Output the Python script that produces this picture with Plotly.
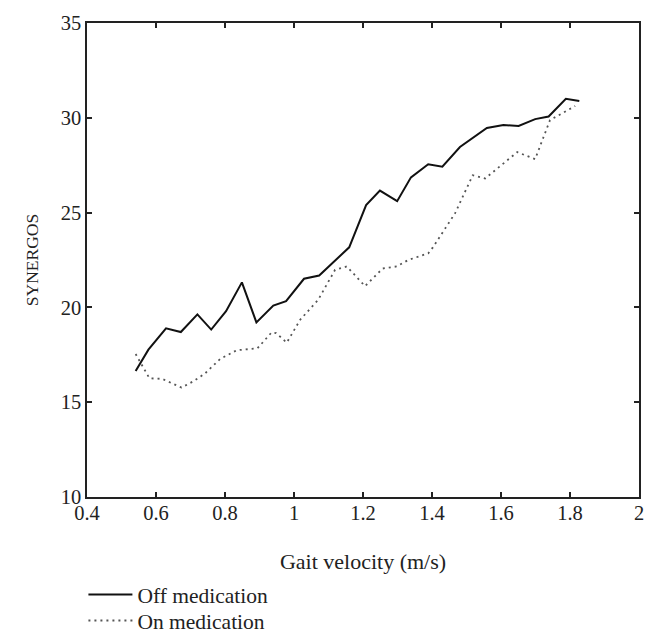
import plotly.graph_objects as go

off_x = [0.541, 0.578, 0.629, 0.672, 0.720, 0.760, 0.803, 0.849, 0.891, 0.940,
         0.977, 1.029, 1.073, 1.119, 1.160, 1.209, 1.249, 1.299, 1.339, 1.389,
         1.430, 1.481, 1.559, 1.607, 1.651, 1.699, 1.738, 1.788, 1.827]
off_y = [16.65, 17.77, 18.90, 18.70, 19.63, 18.83, 19.80, 21.32, 19.21, 20.10,
         20.33, 21.51, 21.68, 22.47, 23.17, 25.40, 26.16, 25.60, 26.86, 27.55,
         27.42, 28.46, 29.46, 29.62, 29.57, 29.93, 30.07, 31.00, 30.89]

on_x = [0.541, 0.581, 0.618, 0.674, 0.708, 0.741, 0.786, 0.834, 0.894, 0.935,
        0.948, 0.979, 1.018, 1.070, 1.119, 1.153, 1.206, 1.257, 1.298, 1.331,
        1.389, 1.402, 1.467, 1.518, 1.554, 1.647, 1.699, 1.742, 1.815]
on_y = [17.54, 16.26, 16.23, 15.77, 16.10, 16.50, 17.28, 17.74, 17.84, 18.68,
        18.65, 18.14, 19.35, 20.40, 21.98, 22.16, 21.12, 22.05, 22.16, 22.50,
        22.85, 23.15, 24.97, 26.97, 26.80, 28.19, 27.82, 29.88, 30.62]

x_ticks = [0.4, 0.6, 0.8, 1, 1.2, 1.4, 1.6, 1.8, 2]
x_tick_labels = ["0.4", "0.6", "0.8", "1", "1.2", "1.4", "1.6", "1.8", "2"]
y_ticks = [10, 15, 20, 25, 30, 35]

FONT = "Liberation Serif"
INK = "#222222"

fig = go.Figure()
fig.add_trace(go.Scatter(x=off_x, y=off_y, mode="lines", name="Off medication",
                         line=dict(color="#111111", width=2),
                         legend="legend", showlegend=True))
fig.add_trace(go.Scatter(x=on_x, y=on_y, mode="lines", name="On medication",
                         line=dict(color="#555555", width=1.8, dash="2px,4px"),
                         legend="legend2", showlegend=True))

axis_common = dict(showline=True, linecolor=INK, linewidth=1.5, mirror="ticks",
                   ticks="inside", ticklen=5, tickwidth=1.5, tickcolor=INK,
                   showgrid=False, zeroline=False, automargin=False,
                   tickfont=dict(family=FONT, size=20.5, color=INK))

fig.update_xaxes(range=[0.4, 2], tickvals=x_ticks, ticktext=x_tick_labels,
                 ticklabelstandoff=-3,
                 title=dict(text="Gait velocity (m/s)", font=dict(family=FONT, size=22, color=INK),
                            standoff=33),
                 **axis_common)
fig.update_yaxes(range=[10, 35], tickvals=y_ticks,
                 title=dict(text="SYNERGOS", font=dict(family=FONT, size=17.5, color=INK),
                            standoff=18),
                 **axis_common)

legend_common = dict(xref="paper", yref="container", xanchor="left", yanchor="top",
                     font=dict(family=FONT, size=21.5, color=INK),
                     bgcolor="rgba(0,0,0,0)", itemwidth=44, visible=True)

fig.update_layout(
    width=648, height=635,
    margin=dict(l=79, r=17, t=15, b=146),
    plot_bgcolor="white", paper_bgcolor="white",
    showlegend=True,
    font=dict(family=FONT, size=20, color=INK),
    legend=dict(x=-0.0065, y=0.1086, **legend_common),
    legend2=dict(x=-0.0065, y=0.0677, **legend_common),
)

fig.write_html("out.html")
